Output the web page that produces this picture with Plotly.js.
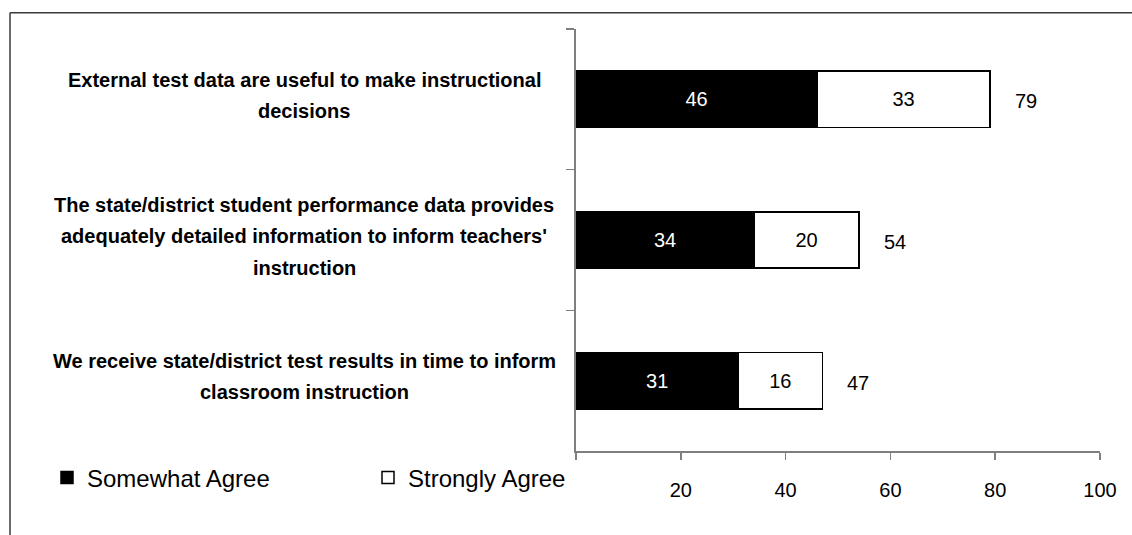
<!DOCTYPE html>
<html>
<head>
<meta charset="utf-8">
<script src="https://cdn.plot.ly/plotly-3.0.1.min.js"></script>
<style>
  html, body { margin: 0; padding: 0; background: #ffffff; }
  #chart { width: 1132px; height: 535px; }
</style>
</head>
<body>
<div id="chart"></div>
<script>
// ---- data ----
const categories = [
  "External test data are useful to make instructional decisions",
  "The state/district student performance data provides adequately detailed information to inform teachers' instruction",
  "We receive state/district test results in time to inform classroom instruction"
];
const categoryLines = [
  ["External test data are useful to make instructional", "decisions"],
  ["The state/district student performance data provides", "adequately detailed information to inform teachers'", "instruction"],
  ["We receive state/district test results in time to inform", "classroom instruction"]
];
const seriesNames = ["Somewhat Agree", "Strongly Agree"];
const somewhatAgree = [46, 34, 31];
const stronglyAgree = [33, 20, 16];
const totals = [79, 54, 47];
const xTickValues = [0, 20, 40, 60, 80, 100];
const xTickLabels = ["", "20", "40", "60", "80", "100"];

// ---- layout constants ----
const W = 1132, H = 535;
const M = { l: 576, r: 32, t: 29, b: 84 };
const plotW = W - M.l - M.r;   // 524
const plotH = H - M.t - M.b;   // 422
const pxToPaperX = px => (px - M.l) / plotW;
const pxToPaperY = py => (H - M.b - py) / plotH;

const FAM = "Liberation Sans, Arial, sans-serif";
const labelFont = { family: FAM, size: 20, color: "#000000" };
const lineSpacing = 31.5;

const traces = [
  {
    type: "bar", orientation: "h", name: seriesNames[0],
    y: categories, x: somewhatAgree,
    text: somewhatAgree.map(String),
    textposition: "inside", insidetextanchor: "middle", constraintext: "none",
    textfont: { family: FAM, size: 20, color: "#ffffff" },
    marker: { color: "#000000", line: { color: "#000000", width: 1.5 } },
    hoverinfo: "skip"
  },
  {
    type: "bar", orientation: "h", name: seriesNames[1],
    y: categories, x: stronglyAgree,
    text: stronglyAgree.map(String),
    textposition: "inside", insidetextanchor: "middle", constraintext: "none",
    textfont: { family: FAM, size: 20, color: "#000000" },
    marker: { color: "#ffffff", line: { color: "#000000", width: 1.5 } },
    hoverinfo: "skip"
  }
];

const annotations = [];
categoryLines.forEach((lines, ci) => {
  const n = lines.length;
  lines.forEach((ln, li) => {
    annotations.push({
      xref: "paper", yref: "y",
      x: pxToPaperX(304), y: categories[ci],
      yshift: ((n - 1) / 2 - li) * lineSpacing + 4,
      text: "<b>" + ln + "</b>",
      showarrow: false, xanchor: "center", yanchor: "middle",
      font: labelFont
    });
  });
});
totals.forEach((t, i) => {
  annotations.push({
    xref: "x", yref: "y", x: t, y: categories[i],
    xshift: 36, yshift: -2,
    text: String(t), showarrow: false, xanchor: "center", yanchor: "middle",
    font: { family: FAM, size: 20, color: "#000000" }
  });
});

const frameColor = "#3a3a3a";
const shapes = [
  { type: "line", xref: "paper", yref: "paper",
    x0: pxToPaperX(10), x1: pxToPaperX(1200), y0: pxToPaperY(12.7), y1: pxToPaperY(12.7),
    line: { color: frameColor, width: 1.5 } },
  { type: "line", xref: "paper", yref: "paper",
    x0: pxToPaperX(10), x1: pxToPaperX(10), y0: pxToPaperY(12.7), y1: pxToPaperY(600),
    line: { color: frameColor, width: 1.5 } }
];

const layout = {
  width: W, height: H,
  margin: M,
  paper_bgcolor: "#ffffff", plot_bgcolor: "rgba(0,0,0,0)",
  barmode: "stack", bargap: 0.6,
  showlegend: true,
  legend: {
    orientation: "h", x: pxToPaperX(47), xanchor: "left",
    y: pxToPaperY(478), yanchor: "middle",
    font: { family: FAM, size: 24, color: "#000000" },
    entrywidth: 276, entrywidthmode: "pixels",
    bgcolor: "rgba(0,0,0,0)", traceorder: "normal"
  },
  xaxis: {
    range: [0, 100], tickvals: xTickValues, ticktext: xTickLabels,
    ticks: "outside", ticklen: 7, tickwidth: 1.5, tickcolor: "#7f7f7f",
    showline: true, linecolor: "#7f7f7f", linewidth: 2,
    showgrid: false, zeroline: false,
    ticklabelstandoff: 13,
    tickfont: { family: FAM, size: 20, color: "#000000" },
    fixedrange: true
  },
  yaxis: {
    type: "category", categoryorder: "array", categoryarray: categories,
    range: [2.5, -0.5],
    tickson: "boundaries", ticks: "outside", ticklen: 8, tickwidth: 1.5, tickcolor: "#7f7f7f",
    showticklabels: false,
    showline: true, linecolor: "#7f7f7f", linewidth: 2,
    showgrid: false, zeroline: false, fixedrange: true
  },
  annotations: annotations,
  shapes: shapes
};

Plotly.newPlot("chart", traces, layout, { staticPlot: true, displayModeBar: false });
</script>
</body>
</html>
